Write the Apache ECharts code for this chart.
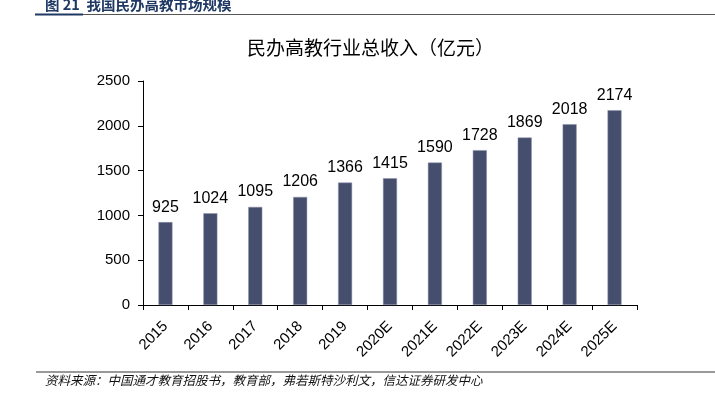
<!DOCTYPE html>
<html>
<head>
<meta charset="utf-8">
<script src="https://cdn.jsdelivr.net/npm/echarts@6/dist/echarts.min.js"></script>
<style>
  html, body { margin: 0; padding: 0; background: #fff; }
  #chart { width: 715px; height: 397px; }
</style>
</head>
<body>
<div id="chart"></div>
<script>
// 年份（E = 预测）
var years = ["2015", "2016", "2017", "2018", "2019", "2020E", "2021E", "2022E", "2023E", "2024E", "2025E"];
// 民办高教行业总收入（亿元）
var revenue = [925, 1024, 1095, 1206, 1366, 1415, 1590, 1728, 1869, 2018, 2174];
var yTicks = [0, 500, 1000, 1500, 2000, 2500];

var chart = echarts.init(document.getElementById("chart"));
var font = "Arial, 'Liberation Sans', 'Noto Sans CJK SC', sans-serif";

var option = {
  animation: false,
  backgroundColor: "#fff",
  textStyle: { fontFamily: font },
  title: {
    text: "民办高教行业总收入（亿元）",
    left: 242,
    top: 35,
    textStyle: { fontSize: 19, fontWeight: "normal", color: "#000", fontFamily: font }
  },
  grid: { left: 143, right: 78, top: 81, bottom: 92 },
  xAxis: {
    type: "category",
    data: years,
    axisLine: { lineStyle: { color: "#000", width: 1 } },
    axisTick: { show: true, alignWithLabel: false, length: 5, lineStyle: { color: "#000" } },
    axisLabel: { rotate: 45, margin: 19, fontSize: 15, color: "#000", interval: 0 }
  },
  yAxis: {
    type: "value",
    min: yTicks[0],
    max: yTicks[yTicks.length - 1],
    interval: 500,
    axisLine: { show: true, lineStyle: { color: "#000", width: 1 } },
    axisTick: { show: true, inside: false, length: 5, lineStyle: { color: "#000" } },
    splitLine: { show: false },
    axisLabel: { fontSize: 15, color: "#000", margin: 13, formatter: function (v) { return String(v); } }
  },
  series: [{
    type: "bar",
    data: revenue,
    barWidth: 14,
    itemStyle: { color: "#464e6e", borderColor: "#8c93ab", borderWidth: 0.5 },
    label: { show: true, position: "top", distance: 7, fontSize: 16, color: "#000" }
  }],
  graphic: [
    // 图表编号
    { type: "text", left: 45, top: -3,
      style: { text: "图 21  我国民办高教市场规模", fontSize: 14.5, fontWeight: "bold", fill: "#1f3864",
               fontFamily: "'Noto Sans CJK SC', sans-serif" } },
    { type: "line", shape: { x1: 35, y1: 14.5, x2: 715, y2: 14.5 }, style: { stroke: "#555", lineWidth: 1 } },
    { type: "line", shape: { x1: 35, y1: 14.5, x2: 83, y2: 14.5 }, style: { stroke: "#1f3864", lineWidth: 2 } },
    // 资料来源
    { type: "line", shape: { x1: 36, y1: 372, x2: 715, y2: 372 }, style: { stroke: "#999", lineWidth: 2 } },
    { type: "text", left: 45, top: 374,
      style: { text: "资料来源：中国通才教育招股书，教育部，弗若斯特沙利文，信达证券研发中心", fontSize: 12.5,
               fontStyle: "italic", fill: "#111", fontFamily: "'Noto Sans CJK SC', sans-serif" } }
  ]
};
chart.setOption(option);
</script>
</body>
</html>
